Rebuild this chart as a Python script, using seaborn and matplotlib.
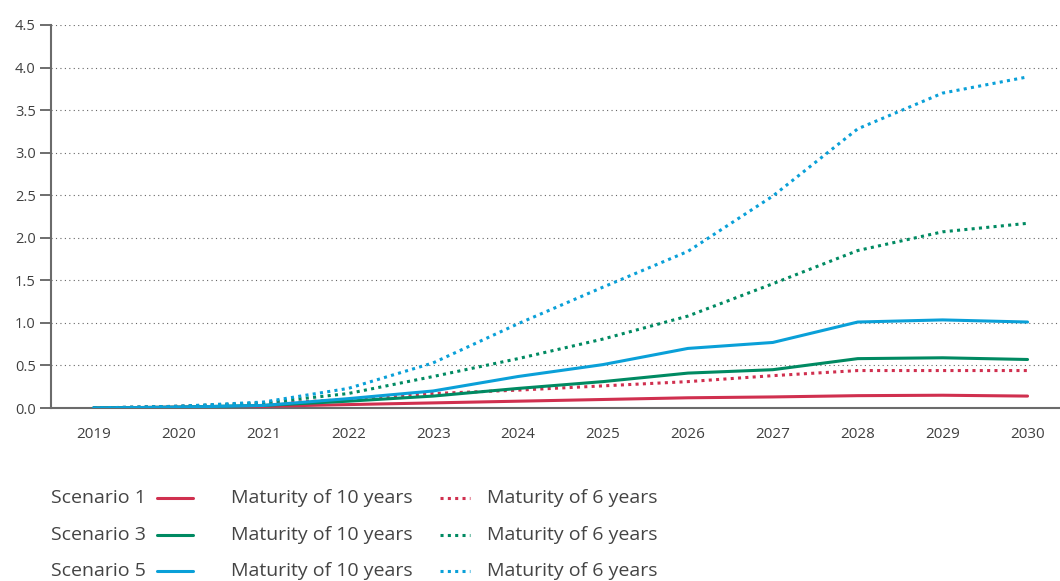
import numpy as np
import pandas as pd
import matplotlib
matplotlib.use("Agg")
import matplotlib.pyplot as plt
from matplotlib.lines import Line2D
import seaborn as sns

years = [2019, 2020, 2021, 2022, 2023, 2024, 2025, 2026, 2027, 2028, 2029, 2030]
scenarios = ["Scenario 1", "Scenario 3", "Scenario 5"]
maturities = ["Maturity of 10 years", "Maturity of 6 years"]

s1_10y = [0.0, 0.01, 0.02, 0.04, 0.06, 0.08, 0.10, 0.12, 0.13, 0.145, 0.15, 0.14]
s1_6y = [0.0, 0.02, 0.05, 0.10, 0.17, 0.21, 0.26, 0.31, 0.38, 0.44, 0.44, 0.44]
s3_10y = [0.0, 0.01, 0.03, 0.08, 0.14, 0.23, 0.31, 0.41, 0.45, 0.58, 0.59, 0.57]
s3_6y = [0.0, 0.02, 0.06, 0.17, 0.37, 0.58, 0.81, 1.08, 1.46, 1.85, 2.07, 2.17]
s5_10y = [0.0, 0.01, 0.03, 0.11, 0.20, 0.37, 0.51, 0.70, 0.77, 1.01, 1.035, 1.01]
s5_6y = [0.0, 0.02, 0.07, 0.23, 0.53, 0.99, 1.42, 1.84, 2.49, 3.28, 3.70, 3.89]

y_ticks = [0.0, 0.5, 1.0, 1.5, 2.0, 2.5, 3.0, 3.5, 4.0, 4.5]

colors = {"Scenario 1": "#d0304f", "Scenario 3": "#008a62", "Scenario 5": "#0aa0d8"}

series = {
    ("Scenario 1", "Maturity of 10 years"): s1_10y,
    ("Scenario 1", "Maturity of 6 years"): s1_6y,
    ("Scenario 3", "Maturity of 10 years"): s3_10y,
    ("Scenario 3", "Maturity of 6 years"): s3_6y,
    ("Scenario 5", "Maturity of 10 years"): s5_10y,
    ("Scenario 5", "Maturity of 6 years"): s5_6y,
}
rows = []
for (sc, mat), vals in series.items():
    for yr, v in zip(years, vals):
        rows.append({"year": yr, "value": v, "scenario": sc, "maturity": mat})
df = pd.DataFrame(rows)

sns.set_theme(style="white")
plt.rcParams["font.family"] = ["Open Sans", "DejaVu Sans"]

W, H = 1060, 581
fig = plt.figure(figsize=(W / 100, H / 100), dpi=100)
ax = fig.add_axes([51 / W, (H - 408) / H, 1019 / W, (408 - 25) / H])

sns.lineplot(
    data=df, x="year", y="value", hue="scenario", style="maturity",
    palette=colors, hue_order=scenarios, style_order=maturities,
    dashes={"Maturity of 10 years": "", "Maturity of 6 years": (1, 1.4)},
    linewidth=2.2, legend=False, ax=ax, zorder=3,
)

ax.set_xlim(years[0] - 0.5, years[-1] + 0.5)
ax.set_ylim(0, 4.5)
ax.set_xticks(years)
ax.set_xticklabels([str(y) for y in years])
ax.set_xticks([y + 0.5 for y in years[:-1]], minor=True)
ax.set_yticks(y_ticks)
ax.set_yticklabels([f"{v:.1f}" for v in y_ticks])
ax.set_xlabel("")
ax.set_ylabel("")

for s in ["top", "right"]:
    ax.spines[s].set_visible(False)
for s in ["left", "bottom"]:
    ax.spines[s].set_color("#6b6b6b")
    ax.spines[s].set_linewidth(1.5)

ax.tick_params(axis="x", which="major", length=0, pad=14, labelsize=11, labelcolor="#404040")
ax.tick_params(axis="x", which="minor", direction="in", length=8, width=1.2, color="#555555")
ax.tick_params(axis="y", which="major", direction="out", length=8, width=1.2, color="#555555",
               pad=3, labelsize=10.5, labelcolor="#404040", left=True)

ax.yaxis.grid(True, linestyle=(0, (1, 3)), color="#666666", linewidth=0.8)
ax.xaxis.grid(False)
ax.set_axisbelow(True)

# Custom legend
row_y = [498, 535, 571]
fs = 14
for i, sc in enumerate(scenarios):
    yf = 1 - row_y[i] / H
    c = colors[sc]
    fig.text(51 / W, yf, sc, fontsize=fs, color="#444444", va="center", ha="left")
    fig.add_artist(Line2D([157 / W, 193 / W], [yf, yf], transform=fig.transFigure,
                          color=c, linewidth=2.2))
    fig.text(231 / W, yf, maturities[0], fontsize=fs, color="#444444", va="center", ha="left")
    fig.add_artist(Line2D([440 / W, 470 / W], [yf, yf], transform=fig.transFigure,
                          color=c, linewidth=2.2, linestyle=(0, (1, 1.4))))
    fig.text(487 / W, yf, maturities[1], fontsize=fs, color="#444444", va="center", ha="left")

fig.savefig("out.png", dpi=100)
